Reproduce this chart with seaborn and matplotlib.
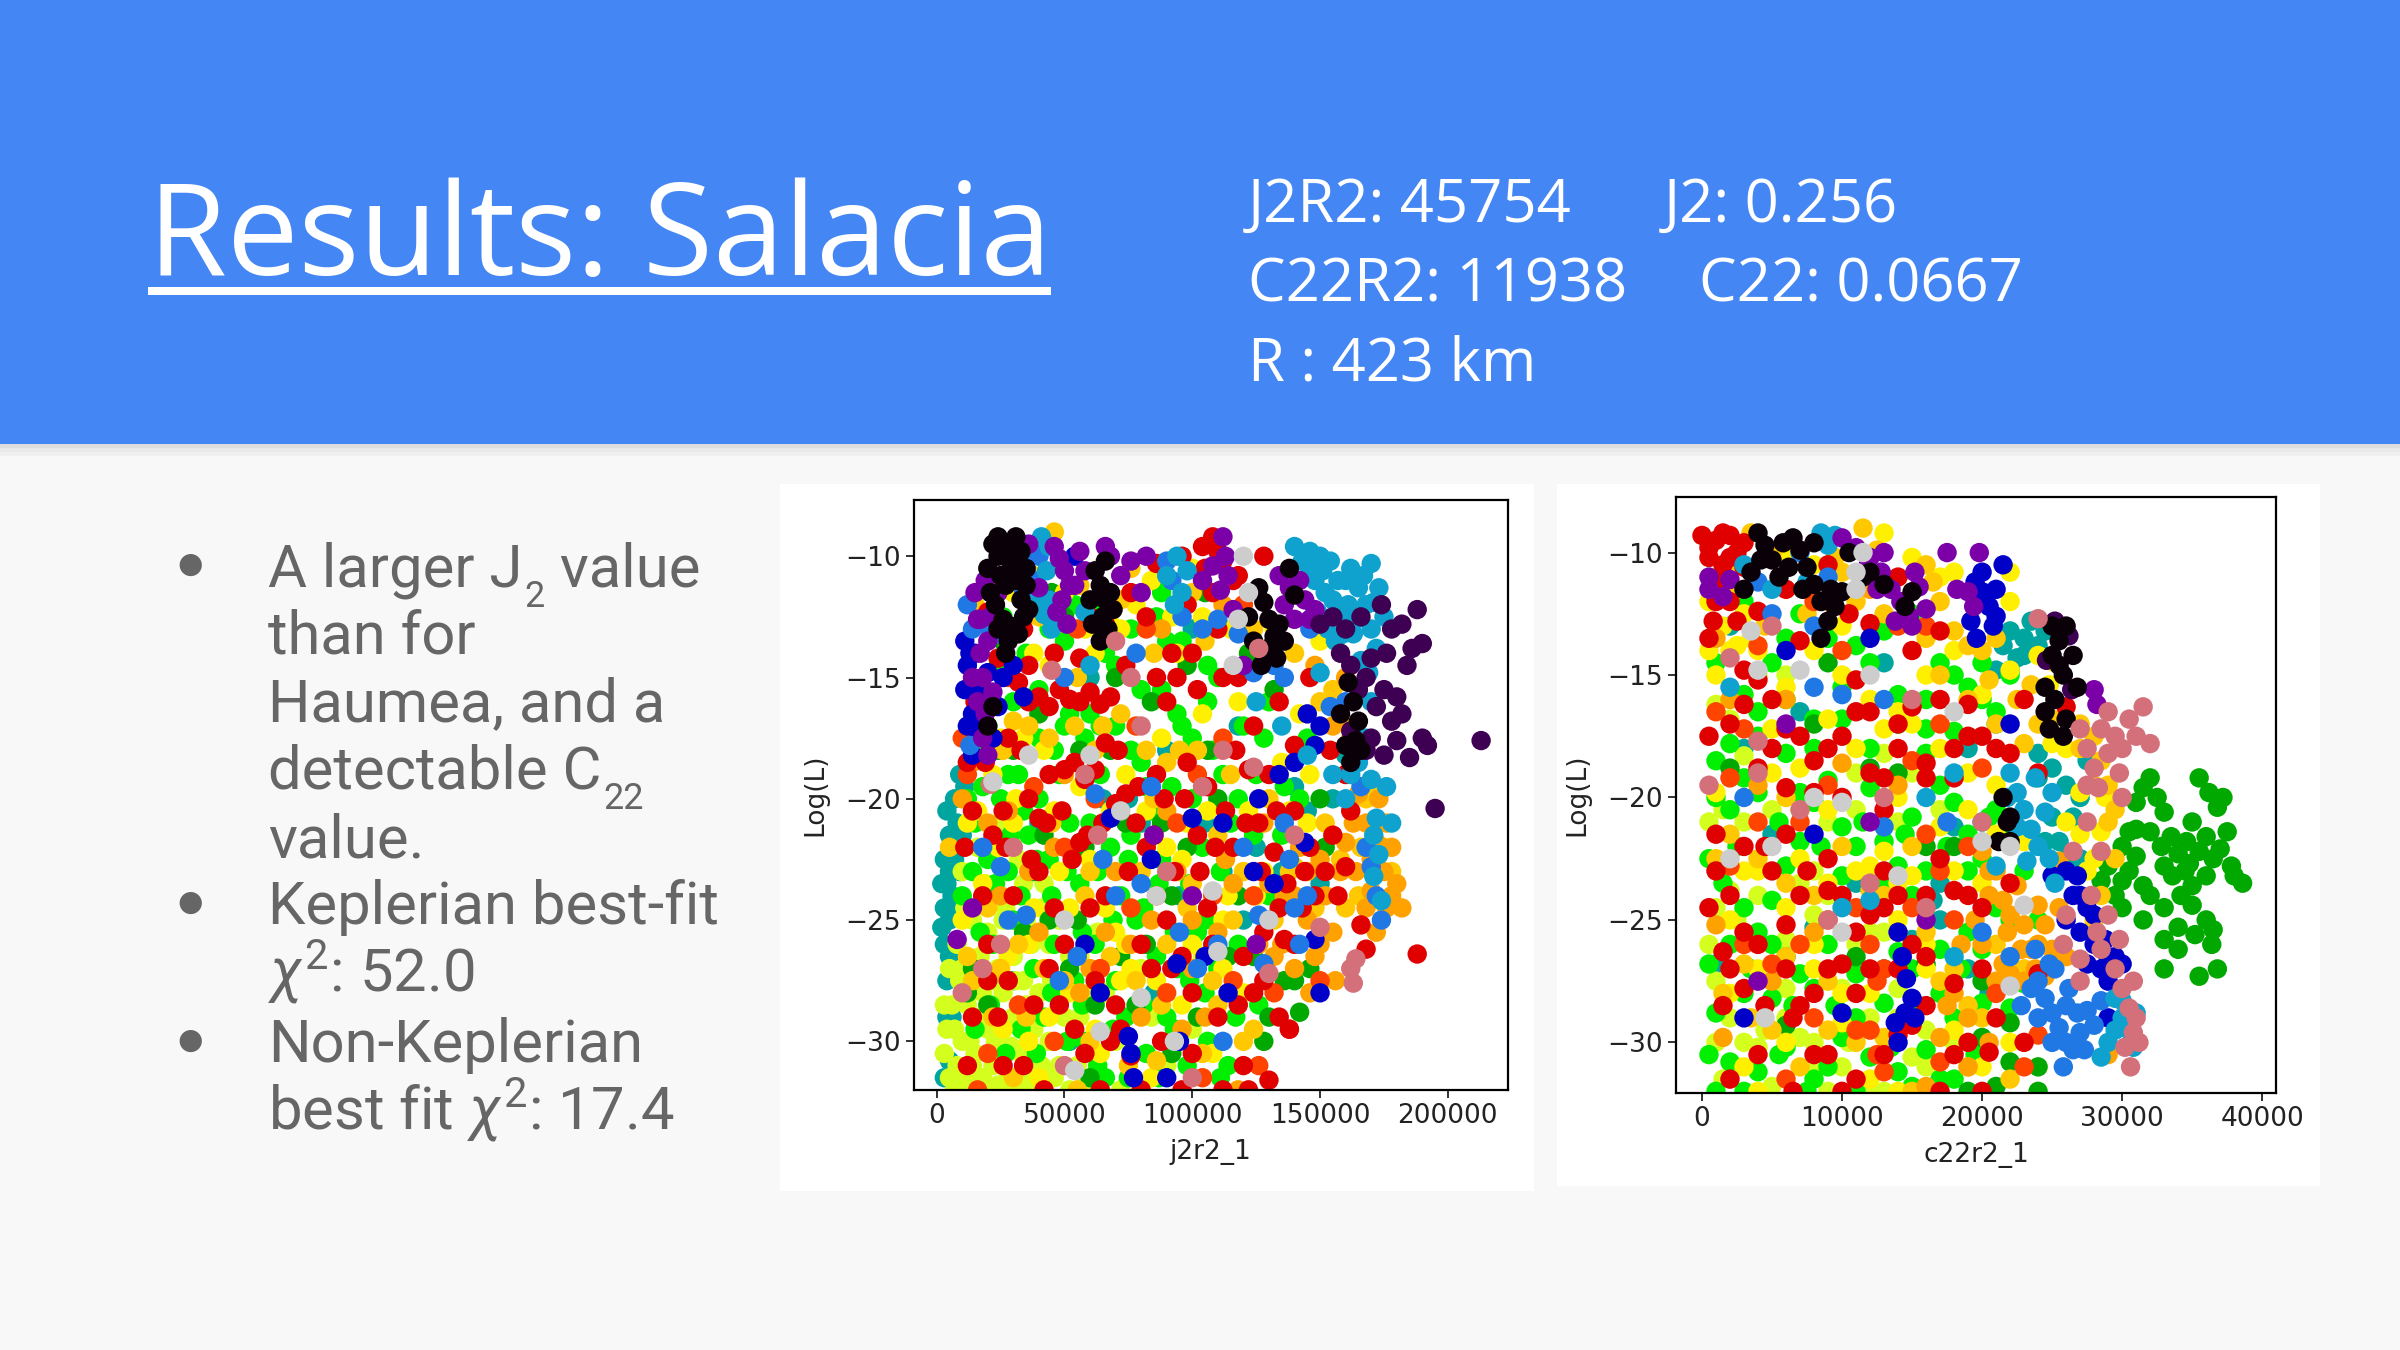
import matplotlib
matplotlib.use("Agg")
import matplotlib.pyplot as plt
from matplotlib.patches import Rectangle
import pandas as pd
import seaborn as sns

# ---------------------------------------------------------------
# walker colours (one colour per MCMC walker family)
# ---------------------------------------------------------------
walker_colors = {
    "teal": "#00a5a0", "chartreuse": "#d4ff1e", "lime": "#00f000",
    "green": "#00a800", "yellow": "#fff000", "gold": "#ffc800",
    "orange": "#ffa200", "vermilion": "#ff4400", "red": "#e00000",
    "navy": "#0000c8", "azure": "#2078e4", "sky": "#10a2ce",
    "purple": "#7b00a8", "aubergine": "#3e0052", "black": "#0a0008",
    "rose": "#d4707a", "silver": "#cdcdcd",
}
draw_order = ["teal", "chartreuse", "lime", "green", "yellow", "gold", "orange",
              "vermilion", "red", "navy", "azure", "sky", "purple", "aubergine",
              "black", "rose", "silver"]

# ---------------------------------------------------------------
# left panel: j2r2_1 (thousands) vs Log(L)
# ---------------------------------------------------------------
j2_teal = [(4,-20.5),(5,-21.5),(3,-22.5),(4,-23.5),(3,-24.5),(2,-25.3),(5,-25),(6,-22),(7,-20),(6,-24),(8,-21),(5,-26.5),(4,-27.5),(7,-27),(9,-19),(6,-29),(5,-30.8),(60,-15),(75,-20),(95,-24),(112,-23),(118,-17),(140,-19.5),(130,-25),(85,-28),(52,-30),(100,-13),(150,-23.5),(125,-22)]
j2_teal2 = [(3,-26),(5,-23),(7,-22.5),(8,-24.5),(9,-23),(10,-21.5),(4,-29),(6,-31.5),(3,-31.5),(2,-23.5),(11,-19.5),(65,-20),(90,-18),(105,-21),(135,-23),(145,-20.5),(155,-20),(160,-18.2),(120,-25),(80,-21),(40,-21),(30,-27.5)]
j2_chartreuse = [(5,-31.5),(8,-31),(10,-30),(12,-31.5),(15,-30.5),(18,-31.5),(20,-29.5),(22,-31),(25,-30),(28,-31.5),(30,-29),(33,-30.5),(36,-31.5),(38,-29.5),(41,-31),(6,-28.5),(9,-27.5),(12,-28.5),(15,-27),(18,-28),(22,-27.5),(26,-28),(30,-26.5),(34,-27.5),(40,-28),(44,-26),(8,-26),(14,-25),(20,-25.5),(27,-24.5),(35,-25),(42,-23.5),(48,-25),(50,-29),(55,-31),(60,-28),(46,-31.5),(63,-25.5),(70,-30),(16,-22),(24,-21),(32,-22.5),(10,-23),(80,-27),(90,-31),(100,-29.5),(4,-29.5),(11,-32),(19,-32),(27,-32),(34,-32)]
j2_chartreuse2 = [(3,-30.5),(7,-29.5),(13,-30),(17,-29),(23,-30),(29,-30.2),(35,-28.5),(7,-32),(14,-31),(24,-31.8),(31,-31.5),(38,-32),(44,-30),(48,-31),(52,-32),(58,-31.8),(10,-27),(17,-26.5),(24,-27),(31,-27.5),(37,-26),(45,-27.5),(52,-26.5),(11,-24.5),(19,-23.5),(26,-25),(34,-23.5),(41,-24.5),(56,-29),(66,-28),(72,-32),(84,-29),(5,-27),(3,-28.5)]
j2_lime = [(12,-20),(15,-21),(18,-19.5),(14,-23),(20,-22.5),(25,-20),(28,-23),(32,-19),(36,-21.5),(40,-20),(44,-22.5),(48,-19),(52,-21),(56,-23.5),(60,-21),(64,-19),(68,-22),(72,-24),(76,-21.5),(80,-18.5),(84,-20.5),(88,-22.5),(92,-19.5),(96,-17),(100,-20),(104,-22),(108,-18),(22,-26),(30,-25),(38,-27),(46,-26),(54,-27.5),(62,-26),(70,-27.5),(78,-25),(86,-26.5),(94,-27),(102,-25.5),(110,-27),(42,-29),(58,-30),(66,-31.5),(74,-29),(82,-30.5),(90,-29),(98,-31),(106,-30),(20,-17),(30,-16),(40,-15.5),(50,-17),(60,-16.5),(70,-14.5),(80,-15.5),(90,-13.5),(110,-15),(120,-17),(115,-21),(125,-19),(135,-21.5),(130,-16),(145,-17.5),(62,-12),(88,-11.5),(50,-13.5),(35,-14),(24,-14.5),(118,-26),(126,-28.5),(114,-31)]
j2_lime2 = [(10,-24),(17,-25.5),(23,-23.5),(29,-21.5),(33,-24),(39,-22.5),(45,-24),(51,-23),(57,-25.5),(63,-23),(69,-25),(75,-22.5),(81,-24.5),(87,-23.5),(93,-25.5),(99,-23.5),(105,-25),(111,-23),(15,-29.5),(21,-28.5),(27,-30.5),(33,-29.5),(39,-30.5),(45,-28),(51,-30),(57,-28.5),(63,-31),(69,-29.5),(75,-31.5),(81,-28.5),(87,-31.5),(93,-29.5),(99,-27.5),(105,-28),(111,-31.5),(117,-29),(16,-18),(22,-16),(28,-19),(34,-20.5),(40,-17.5),(46,-18),(52,-16.5),(58,-17.5),(64,-17),(70,-17),(76,-18),(82,-19.5),(88,-15.5),(94,-16.5),(100,-17.5),(106,-16),(112,-19),(118,-20),(124,-21.5),(130,-24),(136,-19.5),(142,-20),(26,-12.5),(44,-13),(54,-12),(66,-14),(76,-13),(86,-12.5),(96,-13.5),(106,-14.5),(128,-17.5)]
j2_green = [(26,-13.5),(45,-11.5),(70,-15),(38,-23),(55,-25),(78,-28.5),(92,-24),(110,-20),(128,-30),(140,-27.5),(142,-28.8),(68,-18),(84,-16),(105,-11.5),(122,-14),(12,-28),(60,-31.5),(98,-14.5),(150,-20),(30,-18)]
j2_green2 = [(14,-27),(20,-28.5),(34,-25.5),(44,-25),(52,-27),(62,-28.5),(72,-26.5),(82,-26),(92,-30.5),(102,-29),(114,-26.5),(124,-26.5),(136,-27.5),(146,-27),(130,-29),(118,-24),(98,-22),(88,-21),(74,-21),(58,-22),(42,-21.5),(24,-18),(56,-18),(106,-18),(132,-15.5),(152,-22),(50,-12.5),(40,-16.5)]
j2_yellow = [(18,-23.5),(22,-19),(34,-17.5),(42,-18),(48,-23),(56,-19.5),(66,-24.5),(74,-19),(88,-17.5),(96,-22.5),(104,-16.5),(112,-25),(120,-28),(108,-30.5),(84,-31.5),(70,-25.5),(52,-28),(36,-26),(26,-29.5),(40,-31.5),(58,-13),(78,-12),(92,-12.5),(100,-10.5),(68,-12.8),(115,-13),(30,-21),(10,-25),(76,-27),(62,-29.5),(100,-26),(125,-24),(135,-18.5),(145,-21),(160,-12.5),(44,-14.5)]
j2_yellow2 = [(16,-20.5),(24,-22),(31,-20),(38,-24.5),(46,-20.5),(52,-24.5),(60,-22.5),(68,-20.5),(74,-26),(82,-20.5),(90,-22),(98,-21),(106,-20.5),(114,-24),(122,-20.5),(128,-23),(138,-20.5),(146,-19),(28,-26.5),(36,-30),(44,-29),(56,-26.5),(64,-30.5),(72,-27.5),(86,-27.5),(96,-28.5),(104,-26.5),(112,-27),(30,-11.5),(38,-14),(50,-11.5),(62,-14),(72,-13),(84,-11),(94,-14),(104,-12.5),(118,-16),(132,-13),(150,-13.5),(142,-16.5),(25,-17.5),(12,-21)]
j2_gold = [(20,-11),(46,-9),(47,-12.8),(15,-12),(30,-16.8),(55,-15),(65,-17),(85,-14),(105,-13.5),(95,-18),(115,-19),(130,-20),(140,-14),(155,-15.5),(150,-16),(168,-20),(170,-19.5),(45,-21),(60,-23),(80,-23),(25,-27),(35,-29),(90,-26),(110,-28.5),(75,-31),(55,-32),(120,-30),(100,-23.5),(5,-22),(12,-26.5),(148,-24.5),(138,-23),(158,-22.5),(165,-24),(85,-20),(40,-12.5),(72,-11.8)]
j2_gold2 = [(18,-17),(26,-18),(36,-17),(44,-17.5),(54,-17),(62,-18),(72,-16.5),(82,-18),(90,-18.5),(102,-18),(110,-21.5),(120,-23),(132,-25),(140,-22.8),(152,-21),(160,-24.5),(166,-22),(175,-22),(178,-23),(20,-24.5),(32,-26),(42,-27),(50,-27.5),(58,-24),(68,-26.5),(78,-27.5),(88,-28.5),(98,-24.5),(108,-27.5),(116,-25),(124,-29.5),(14,-27.5),(22,-29),(30,-31.5),(60,-30),(86,-30.8),(104,-30.5),(38,-10.8),(56,-11.2),(76,-10.5),(100,-11.5),(124,-13)]
j2_orange = [(165,-19.8),(168,-21),(170,-22.5),(172,-21.8),(175,-23),(178,-24),(180,-23.5),(182,-24.5),(176,-21),(173,-20),(150,-22.5),(152,-24),(155,-25.5),(158,-23),(145,-25),(148,-26.5),(140,-24),(135,-26),(142,-22),(130,-23.5),(162,-17.5),(158,-16.8),(100,-27),(105,-29),(110,-25.5),(90,-20.5),(70,-23),(50,-19),(40,-25.5),(25,-24),(60,-27),(80,-29),(118,-32),(128,-21),(113,-22.5),(96,-29.5),(14,-18.5)]
j2_orange2 = [(160,-21.8),(164,-23),(168,-24.5),(172,-25.5),(176,-24.5),(163,-21),(170,-23.8),(178,-22),(145,-23),(150,-26),(156,-27.5),(146,-28),(140,-27),(136,-24),(132,-26.5),(126,-26),(116,-23.5),(100,-25),(94,-23),(84,-25),(76,-26),(66,-25.5),(56,-28),(46,-22),(36,-23),(28,-20.5),(20,-21),(10,-20),(88,-13),(112,-12),(148,-14.5),(155,-17),(160,-15)]
j2_vermilion = [(10,-17.5),(12,-19),(18,-15.5),(28,-15),(38,-19.5),(50,-22),(62,-20),(78,-17),(86,-24),(94,-21),(102,-19),(112,-17.5),(124,-24),(132,-28),(138,-29.5),(126,-31),(116,-27.5),(104,-31.5),(90,-28),(76,-24.5),(64,-27),(46,-30),(32,-28.5),(20,-30.5),(16,-32),(55,-13),(82,-13),(120,-12),(150,-27.5),(108,-24)]
j2_red = [(12,-18.5),(14,-20.5),(11,-22),(16,-17),(20,-12.3),(24,-14.2),(28,-17.5),(32,-15.2),(36,-16),(40,-15.8),(44,-16.2),(48,-15.5),(52,-15.9),(56,-16),(60,-15.6),(64,-16.1),(68,-15.8),(34,-13),(40,-20.8),(44,-19),(50,-18.8),(54,-18.5),(58,-19.2),(62,-18.8),(66,-17.7),(70,-20.2),(74,-19.8),(78,-21),(82,-22),(86,-19),(90,-16),(94,-15),(98,-18.5),(102,-21.5),(106,-19.5),(110,-9.8),(105,-10.5),(108,-11.5),(86,-10.3),(112,-10.2),(98,-12),(92,-14),(118,-15),(122,-18.8),(126,-21),(130,-19),(132,-22.2),(134,-24.5),(128,-25.5),(120,-26.5),(124,-28),(136,-25.8),(140,-20.5),(144,-23),(148,-24),(155,-21.5),(160,-22.8),(166,-25.2),(168,-26.2),(188,-26.4),(138,-29.5),(130,-31.6),(120,-31),(110,-29),(100,-28),(90,-25),(80,-26),(70,-28.5),(60,-24.5),(50,-26),(40,-23),(30,-24),(20,-26),(14,-29),(24,-29),(34,-31),(48,-28.5),(58,-30.5),(68,-30),(76,-30.6),(88,-30),(96,-26.5),(106,-24.5),(116,-22),(66,-24),(56,-21.8),(46,-24.5),(36,-20),(26,-20.5),(18,-24),(82,-12.5),(74,-14.5),(60,-12.5),(30,-13),(116,-11),(102,-15.5),(112,-15)]
j2_red2 = [(15,-16),(19,-18.5),(22,-21.5),(27,-22),(33,-18),(37,-22.5),(43,-21),(49,-20.5),(53,-22.5),(59,-21.5),(65,-21),(71,-18),(75,-23),(79,-19.5),(85,-21.5),(89,-20),(93,-23),(97,-20),(103,-23),(109,-22),(113,-20.5),(117,-18),(121,-21),(127,-23),(133,-20.5),(137,-23.5),(143,-24.5),(146,-22),(152,-23),(157,-24),(162,-20.5),(20,-27.5),(28,-27.5),(38,-28.5),(44,-27),(54,-29.5),(62,-27.5),(72,-29.5),(84,-27),(92,-27),(100,-30.5),(108,-26),(118,-28.5),(128,-27.5),(134,-29),(140,-26),(12,-31),(26,-31),(42,-32),(64,-32),(80,-32),(96,-32),(112,-32),(122,-32),(36,-14.5),(46,-14),(56,-14.2),(66,-12.8),(76,-11.5),(96,-10),(104,-9.6),(118,-10.8),(128,-10),(86,-15),(100,-14),(110,-13),(124,-17),(134,-16),(140,-17.8),(146,-15),(154,-18),(160,-19),(108,-9.2)]
j2_navy = [(12,-14.5),(13,-15.5),(14,-16.5),(15,-14),(16,-17.2),(17,-15.8),(22,-17.5),(54,-10),(76,-30.5),(77,-31.5),(75,-29.8),(112,-21),(124,-23),(100,-20.8),(84,-22.5),(64,-28),(145,-16.5),(148,-17.8),(150,-17),(134,-19),(44,-11.8),(90,-31.5),(150,-28),(148,-25.8),(105,-26.5),(95,-30)]
j2_navy2 = [(11,-15.5),(12,-17),(14,-18.2),(15,-15.5),(11,-13.5),(13,-14),(18,-16.6),(20,-14.8),(24,-16.2),(26,-15),(30,-14.5),(34,-15.8),(68,-20.8),(94,-26.8),(114,-28),(132,-23.5),(140,-18.5),(144,-21.8),(126,-20),(58,-26)]
j2_azure = [(14,-13),(13,-17.8),(40,-10),(42,-9.5),(38,-11),(90,-10.2),(92,-11),(118,-13.2),(132,-14.5),(140,-24.5),(145,-24),(120,-22),(110,-26),(95,-25.5),(80,-23.5),(65,-22.5),(55,-26.5),(35,-24.8),(25,-22.8),(112,-30),(128,-26.8),(160,-16),(170,-22.8),(172,-24),(142,-26),(138,-22.5)]
j2_azure2 = [(12,-12),(18,-12.8),(24,-13.2),(34,-11.5),(38,-9.8),(50,-15),(62,-19.8),(78,-14),(96,-12.5),(104,-13),(110,-12.6),(124,-14.8),(136,-15),(146,-13),(154,-16.2),(166,-19.5),(168,-22),(174,-25),(136,-21),(126,-24.8),(102,-27),(84,-19.5),(70,-24),(48,-27.5),(28,-25),(18,-22)]
j2_sky = [(140,-9.6),(143,-10.2),(146,-10.5),(148,-11),(150,-10),(152,-11.5),(155,-11.8),(158,-12.3),(160,-11),(162,-10.5),(165,-11.3),(168,-12),(170,-13),(172,-13.8),(166,-14.3),(163,-13.2),(156,-13.5),(170,-10.3),(173,-11.3),(41,-9.2),(43,-10.6),(44,-11.8),(42,-12.4),(90,-10.8),(93,-12),(96,-11.5),(165,-18.5),(170,-19.2),(172,-20.8),(173,-22.3),(174,-24.2),(171,-21.5),(160,-20),(155,-19),(150,-14.8),(145,-18.2),(135,-17),(125,-16),(58,-12.3),(60,-14.5)]
j2_sky2 = [(146,-9.8),(151,-10.6),(154,-10.2),(157,-11),(161,-12),(164,-12.6),(167,-10.8),(171,-11.9),(175,-12.5),(169,-14.8),(159,-13.2),(153,-13),(149,-12.3),(44,-9.6),(40,-11.8),(45,-13),(98,-10.6),(94,-10),(168,-17.5),(176,-19.5),(178,-21),(171,-23.2),(162,-19),(170,-16)]
j2_purple = [(46,-9.6),(48,-10.1),(50,-10.6),(52,-11.2),(49,-11.8),(47,-12.3),(51,-12.8),(16,-12.6),(17,-14),(18,-15),(19,-16.5),(16,-16),(20,-13.5),(22,-15.6),(112,-9.2),(113,-10),(114,-10.8),(111,-11.4),(138,-11.3),(136,-12),(140,-12.6),(142,-11),(68,-10),(80,-11.5),(14,-24.5),(8,-25.8),(85,-21.5),(100,-24),(120,-14.5),(125,-26)]
j2_purple2 = [(15,-11.5),(17,-12.6),(19,-11),(21,-12.5),(24,-11.5),(18,-17.5),(20,-18.2),(14,-15),(36,-9.5),(40,-11.3),(54,-11.2),(56,-9.8),(58,-10.6),(66,-9.6),(72,-10.8),(76,-10.2),(82,-10),(104,-11),(108,-10.4),(116,-12.2),(134,-10.8),(144,-11.8),(146,-12.6),(148,-12.2)]
j2_aubergine = [(150,-12.8),(155,-12.5),(158,-14),(160,-13),(162,-14.5),(165,-15.5),(168,-15),(170,-14.2),(172,-16.2),(175,-15.5),(178,-16.8),(180,-15.8),(182,-16.5),(184,-14.5),(186,-13.8),(188,-12.2),(190,-13.6),(178,-13),(176,-14),(174,-12),(166,-12.5),(170,-17.5),(175,-18.2),(180,-17.6),(185,-18.3),(190,-17.5),(192,-17.8),(195,-20.4),(213,-17.6),(168,-18),(162,-17.2),(182,-12.8)]
j2_black = [(22,-9.5),(24,-9.2),(26,-9.4),(28,-10),(30,-9.6),(32,-10.2),(25,-10.8),(27,-11.2),(29,-10.5),(31,-11),(33,-11.8),(34,-12.5),(23,-12),(26,-12.6),(30,-12.9),(35,-10.5),(28,-13.5),(32,-13.2),(36,-12.2),(62,-10.6),(64,-11.2),(66,-11.8),(65,-12.5),(67,-13),(63,-12.8),(68,-11.5),(126,-11.3),(128,-11.9),(130,-12.6),(132,-13.3),(129,-14),(131,-13.7),(134,-12.8),(161,-15.2),(163,-16),(165,-16.8),(164,-17.6),(166,-18)]
j2_black2 = [(20,-10.5),(21,-11.5),(24,-10),(27,-9.8),(31,-9.2),(33,-9.8),(35,-11.2),(24,-13),(27,-14),(22,-16.2),(20,-17),(60,-11.8),(61,-12.8),(64,-13.5),(66,-10.2),(69,-12.2),(122,-12.5),(124,-13.5),(127,-14.5),(133,-14.2),(136,-13.5),(158,-16.5),(160,-17.8),(162,-18.5),(138,-10.5),(140,-11.6)]
j2_rose = [(21,-19.4),(30,-22),(45,-14.7),(58,-19),(63,-21.5),(76,-15),(80,-17),(90,-23),(104,-19.5),(112,-18),(124,-18.7),(126,-13.8),(150,-25.3),(162,-27),(163,-27.6),(164,-26.6),(18,-27),(25,-26),(50,-31),(140,-21.5),(130,-27.2),(70,-13.5),(100,-31.5),(10,-28)]
j2_silver = [(22,-19.3),(50,-25),(60,-18.2),(72,-20.5),(86,-24),(93,-30),(110,-26.3),(116,-14.5),(122,-11.5),(120,-10),(118,-12.6),(64,-29.6),(108,-23.8),(54,-31.2),(80,-28.2),(36,-18.2),(130,-25)]

# ---------------------------------------------------------------
# right panel: c22r2_1 (thousands) vs Log(L)
# ---------------------------------------------------------------
c22_teal = [(22,-13.2),(23,-13.5),(24,-13.8),(22.5,-14.3),(23.5,-12.8),(21,-14.8),(24,-18.2),(25,-18.8),(26,-19.5),(26.5,-20.8),(25.5,-21.8),(27,-22.5),(27.5,-18.5),(18,-21.2),(17,-23.5),(16.5,-24.2),(19,-27),(20.5,-28),(13,-27),(11,-23.5),(7,-16.5),(2,-13),(5,-21.5)]
c22_teal2 = [(21.5,-13.8),(22,-14.8),(23,-14.2),(24.5,-13.2),(24,-19.2),(25,-20.8),(26,-22.5),(24.5,-21.8),(27,-20),(21,-17),(19,-18),(17,-25),(15,-25.8),(20,-21),(1,-26.8),(3,-18),(8,-25.3),(13,-14.5)]
c22_chartreuse = [(0.5,-26),(1,-27.5),(2,-29),(3,-30),(1.5,-31.5),(4.5,-29.5),(6,-27.8),(7,-29.8),(5,-31.8),(8,-30),(9,-32),(10,-31),(12,-29),(11,-26),(13,-25.5),(14,-27.8),(15,-30.6),(7,-23.5),(5,-20.5),(3,-21),(2,-23.8),(9,-24),(11,-20.5),(13,-18.2),(15,-19),(17,-20.5),(4,-15),(1,-16.2),(8,-23),(16,-29.5),(13,-32)]
c22_chartreuse2 = [(1,-24.5),(2.5,-25),(4,-24),(6,-25.8),(8,-24.8),(10,-27.8),(12,-25.5),(1,-30),(2.5,-31),(4,-30.2),(6,-29),(8,-31.2),(10.5,-30),(12,-32),(14,-29),(16,-31),(18,-30),(3,-18.3),(7,-20.5),(9,-21),(11,-19),(14,-21),(2,-16.8),(6,-15),(0.5,-21),(1.5,-20.5)]
c22_lime = [(1,-18.5),(3,-19.2),(2,-20.5),(0.5,-22.5),(1.5,-23.5),(3,-24.5),(4,-25.5),(5,-24.2),(6,-22.8),(7,-21.8),(8,-20.2),(9,-19.3),(10,-21.2),(11,-22),(12,-19.6),(13,-21.8),(14,-22.8),(15,-20.8),(16,-18.2),(17,-19.5),(18,-20.2),(19,-21.5),(20,-22.5),(21,-24.5),(19,-25.5),(17,-26.2),(15,-27),(13,-28.4),(11,-27.2),(9,-26),(7,-27.2),(5,-28.2),(3,-28),(1,-28.8),(0.5,-30.5),(2,-30.8),(4,-31.2),(6,-30.2),(8,-31.5),(10,-29.8),(12,-30.6),(14,-31.2),(16,-30.3),(17,-31.5),(18,-29),(20,-28.4),(22,-28.6),(23,-27.6),(24,-25),(8,-16.8),(10,-15.5),(12,-14.5),(14,-15.8),(16,-16),(18,-15),(20,-14.5),(4,-16.5),(6,-18.2),(3,-12),(21,-20.5),(22,-25),(15,-24),(6,-13.5)]
c22_lime2 = [(1,-20),(2.5,-22),(4,-19.8),(5.5,-21),(7,-19.8),(8.5,-22),(10,-23.2),(11.5,-21),(13,-23.5),(14.5,-21.5),(16,-23),(17.5,-22),(19,-23),(20.5,-20.8),(22,-21.2),(0.5,-26.8),(2,-26),(3.5,-27),(5,-26),(6.5,-28.5),(8,-27.8),(9.5,-28.5),(11,-29),(12.5,-27.2),(14,-26.3),(15.5,-28.5),(17,-28),(18.5,-27),(20,-26.2),(1,-32),(3,-32),(5.5,-30.5),(7.5,-32),(9,-31),(11,-32),(13.5,-30.2),(15,-31.8),(18,-31.5),(19.5,-30.5),(2,-17.8),(4,-17.5),(6,-16),(8,-18),(10,-16.8),(12,-18),(14,-17),(16,-17.2),(18,-17.3),(20,-16),(22,-15),(1,-14.5),(3,-15.8),(5,-14.5),(7,-12.5),(9,-13.5),(11,-13.8),(13,-13.2),(15,-12.5),(17,-14.5),(19,-15.5),(21,-16.5),(23,-23)]
c22_green = [(29,-22.8),(30,-22),(30.5,-21.4),(31,-20.2),(31.5,-19.6),(32,-19.2),(32.5,-20),(33,-20.6),(32,-21.4),(31,-22.4),(30,-23.4),(31.5,-23.6),(33.5,-21.6),(34,-22.3),(34.5,-23),(35,-23.6),(35.5,-22.2),(36,-21.6),(36.5,-22.5),(37,-22.1),(35.5,-19.2),(36.2,-19.8),(36.8,-20.4),(37.2,-20),(35,-21),(33,-22.8),(32,-24),(33,-24.5),(34,-25.3),(35,-24.4),(34.2,-24),(36,-25),(38,-23.2),(38.6,-23.5),(36.5,-25.4),(34,-26.2),(35.5,-27.3),(33,-27),(36.4,-26),(28.5,-23.4),(29.5,-24),(20,-27.5),(22,-29.2),(24,-31),(21,-31.8),(19,-32),(12,-18.8),(6,-26.5),(9,-14.5),(16,-22),(24,-32)]
c22_green2 = [(32.8,-22),(33.6,-23.2),(34.6,-21.8),(31,-21.3),(30.5,-23),(37.5,-21.4),(36,-23.2),(33,-25.8),(35.2,-25.6),(36.8,-27),(34.8,-22.7),(31.5,-25),(30,-24.5),(37.8,-22.8),(2,-18.8),(8,-17),(14,-19),(18,-22),(6,-29.3),(11,-26.5),(16,-26.8),(20,-29.8),(22,-30.8)]
c22_yellow = [(0.5,-14),(1,-15),(2,-14),(3.5,-13.5),(5,-17.2),(7,-18.8),(9,-16.8),(11,-18),(13,-17.2),(15,-17),(17,-18),(19,-19),(21,-19.5),(27,-21.5),(28,-22.5),(28.5,-21.4),(27.5,-23),(26,-18),(25,-17.8),(24.8,-15.4),(25.2,-14.5),(10,-13),(6,-24.5),(4,-23),(2,-25),(8,-27),(10,-29.2),(12,-22.8),(14,-23.5),(18,-23),(20,-23.5),(16,-27),(12,-31.5),(3,-31),(22,-10.8),(17,-11),(6,-10),(3,-12.5),(9,-23.5),(14,-20)]
c22_yellow2 = [(0.5,-12),(1.5,-13),(2.5,-13.8),(4,-14),(6,-15.5),(8,-14),(10,-15),(12,-16),(14,-16.5),(16,-15),(18,-14),(20,-15.8),(22,-14.8),(24,-14.2),(1,-19.8),(3,-23),(5,-19),(7,-22.5),(9,-20.5),(11,-23),(13,-22.2),(15,-23.2),(17,-21.2),(19,-20.5),(21,-21.5),(23,-21.8),(26,-21),(27,-19.8),(28.8,-20),(2,-28),(4,-27),(6,-30),(8,-26),(10,-28),(12,-28),(14,-25),(16,-26),(18,-29.5),(20,-31),(22,-30),(24,-26),(14,-32),(4,-32),(8,-10.5),(13,-9.2),(15,-10.2),(18,-10.8),(22,-12)]
c22_gold = [(11.5,-9),(12.5,-9.9),(2.5,-11.5),(4.5,-13),(7.5,-12.5),(16,-10.5),(16.5,-11.2),(17,-12),(18,-13.2),(19,-13.8),(20,-14),(21,-13.5),(20.5,-15.2),(22.5,-16),(23.5,-15.4),(24,-17),(28,-19.5),(28.5,-18.5),(29,-21),(29.5,-20.5),(28,-17.5),(27,-17),(1,-22.5),(3,-26.8),(5,-29.5),(7,-31),(9,-27.5),(11,-30),(13,-24),(15,-22),(17,-27.5),(19,-28.5),(21,-26),(23,-27),(22,-31.5),(6,-20)]
c22_gold2 = [(1,-11),(2,-10.5),(3.5,-9.2),(5,-10),(9.5,-10.2),(10,-10.8),(11,-12),(13,-12.5),(16,-13.5),(17,-15),(19,-16),(21,-17),(23,-17.8),(25,-16.8),(27,-18),(29,-19.5),(29.5,-22.5),(28.5,-24),(28,-25),(2,-21.5),(4,-22.5),(6,-23.5),(8,-24),(10,-22),(12,-23.8),(14,-25.5),(16,-25.5),(18,-27),(20,-29),(1.5,-28),(3.5,-29),(6,-26.5),(9,-29.5),(13,-29.8),(15,-32),(19,-31)]
c22_orange = [(20,-22.2),(21,-23),(21.5,-24.2),(22,-24.8),(22.5,-23.6),(23,-25.2),(23.5,-26.2),(24.5,-25.2),(25,-26.2),(24,-24.4),(23,-27.5),(21.5,-26.8),(20.5,-24),(19.5,-25),(21,-27.5),(19,-29),(18,-28),(17,-29.8),(29,-30.5),(1,-25.2),(1,-13.5),(1.5,-29.8),(6,-16),(8,-25.5),(10,-18.6),(14,-19.5),(26,-26.5),(25.5,-22.6),(16,-31.8)]
c22_orange2 = [(20.5,-23),(21.8,-25.5),(22.8,-26.2),(23.8,-27),(24.5,-27.3),(25.5,-24.5),(24,-26),(22,-27.2),(20,-26),(18.5,-26),(17.5,-28.5),(19,-31),(20.5,-30),(2,-16),(4,-19.5),(9,-12),(12,-11.5),(5,-27.5)]
c22_vermilion = [(1,-16.5),(3,-17.2),(2,-19.2),(4,-21),(5,-26.8),(7,-26),(9,-25),(11,-24.5),(12,-26),(12.5,-27.5),(12,-29.5),(12.5,-30.5),(13,-31.2),(15,-18.5),(17,-17),(18,-25),(20,-18.8),(8,-29),(6,-31.5),(17,-30.8),(24,-29.7),(10,-14),(14,-13),(16,-21.5)]
c22_vermilion2 = [(2,-22.8),(3,-26),(7,-21),(9,-19.5),(11,-29.5),(13,-27),(15,-24.5),(17,-23),(19,-22),(21,-28),(23,-31),(4,-13.8),(8,-12),(16,-13)]
c22_red = [(0,-9.3),(1,-9.5),(2,-9.3),(0.5,-10.2),(1.5,-10.5),(2.5,-10),(3,-9.6),(1,-11.2),(2,-12),(0.8,-12.8),(4,-12.4),(6,-11.5),(9,-10.5),(10.5,-12.5),(12,-12.9),(14,-11),(7,-13.6),(3,-14.8),(5,-16),(2,-17),(4,-18.8),(6,-19.6),(8,-18.5),(10,-17.5),(12,-16.5),(14,-18),(16,-19.2),(18,-18),(20,-17.5),(22,-18.2),(19,-16.2),(11,-15.2),(9,-22.5),(7,-24),(5,-23),(3,-22),(1,-21.5),(0.5,-24.5),(2,-27),(4,-26),(6,-25.2),(8,-28),(10,-26.8),(12,-24.8),(13,-23),(15,-26),(17,-22.5),(19,-24),(21,-29),(23,-30),(18,-30.5),(16,-28.5),(14,-29.7),(11,-31.5),(9,-30.5),(20.5,-30.4),(13,-20.5),(10,-20),(15,-14),(17,-13.2),(0.5,-17.5),(1.5,-26.3),(24,-27.2),(26,-16.3),(22,-23.5),(6.5,-29),(20,-32)]
c22_red2 = [(0.5,-9.8),(1.5,-9.2),(2,-10.2),(3,-10.6),(1,-12),(2.5,-12.8),(0.5,-13.5),(3,-16.2),(4,-15.2),(5,-18),(6,-17.2),(7,-17.5),(8,-19.8),(9,-18),(11,-16.5),(12,-19),(13,-19.2),(14,-17),(15,-16.3),(16,-18.6),(17,-16),(18,-19.2),(19,-17.5),(21,-18),(23,-16),(24,-19),(1,-23),(2,-24),(3,-25.5),(4.5,-22),(6,-21.5),(7.5,-23),(9,-23.8),(10,-24),(11,-25.5),(13,-24.5),(14,-24),(16,-24),(18,-23.8),(20,-24.5),(1.5,-28.5),(3,-27.8),(4.5,-28.5),(6,-27),(7,-28.5),(9,-27),(11,-28),(12,-27),(14,-27),(16,-26.5),(18,-27.6),(20,-27),(2,-31.5),(4,-30.5),(6.5,-32),(8,-30.5),(10,-32),(13,-30.5),(15,-29.3),(17,-32),(19,-30)]
c22_navy = [(19.5,-11.2),(20,-11.6),(20.5,-12.2),(21,-11.5),(21.5,-10.5),(20.8,-13),(19.2,-12.8),(14,-25.5),(14.3,-26.5),(14.6,-27.4),(15,-28.2),(15.2,-29),(14,-30),(10,-28.8),(3,-29),(26,-23),(26.5,-24),(27,-25.5),(27.5,-24.5),(28,-26),(28.5,-27),(29,-27.5),(29.5,-26.5),(30,-26.8),(29,-29),(26.8,-23.2),(8,-21.5),(6,-14),(22,-17),(12,-13.5)]
c22_navy2 = [(20,-10.8),(21,-12.6),(19.6,-13.5),(14.5,-28.8),(13.8,-29.2),(27,-24),(28,-24.8),(28.8,-25.8),(27.5,-26.8),(29,-26.5),(26,-25),(25,-23.2)]
c22_azure = [(24,-27.5),(24.5,-28.2),(25,-28.8),(25.5,-29.4),(26,-30),(26.5,-30.3),(27,-29.6),(27.5,-28.7),(28,-29.3),(26.2,-27.8),(25.2,-27),(23.8,-26.2),(9,-11),(7,-10),(5,-12.5),(8,-15.5),(13,-16),(17.5,-21),(20,-25.5),(22,-26.5),(3,-20)]
c22_azure2 = [(25,-30),(24,-29),(25.8,-31),(27.3,-30.3),(28.5,-28.3),(23.5,-27.8),(22.8,-28.5),(26.8,-28.8),(26,-28.5),(24.8,-26.8),(13,-21.2),(10,-15.8),(4,-11.2),(8,-13)]
c22_sky = [(8.5,-9.2),(9,-9.7),(22,-19),(22.5,-19.8),(23,-20.5),(23.5,-21.3),(24,-22),(24.5,-20.6),(25,-19.8),(23.2,-22.6),(21,-22.8),(29.5,-28.2),(30,-29),(30.5,-29.5),(31,-28.8),(29,-30),(5,-11.5),(2,-15.5),(10,-24.5),(18,-26.5),(16,-20)]
c22_sky2 = [(22.5,-21.2),(23.8,-19.2),(21.8,-20),(24.8,-22.5),(25.2,-23.5),(30,-28.3),(30.8,-30.2),(29.5,-29.5),(28.5,-30.6),(9.5,-9.3),(7.5,-11.2),(3,-10.5),(12,-24.2),(18,-19)]
c22_purple = [(11,-9.8),(12,-10.2),(12.8,-10.8),(13.5,-11.5),(14.2,-12),(14.8,-12.6),(15.5,-11.4),(16,-12.3),(10,-9.4),(19.8,-10),(19,-11.6),(19.4,-12.2),(28,-15.6),(28.2,-16.2),(0.5,-11.5),(2,-11.1),(6,-17),(12,-21),(16,-25),(4,-27.5)]
c22_purple2 = [(12.5,-11.5),(13.8,-12.8),(15,-13),(11.8,-10.6),(13,-10),(15.2,-10.8),(17.5,-10),(18.2,-11.5),(0.5,-11),(1.5,-11.8)]
c22_aubergine = [(25.2,-12.8),(26.2,-13.4),(24.6,-14.4),(26.4,-15.6)]
c22_black = [(4,-9.2),(4.5,-9.7),(5,-10.3),(5.5,-11),(3.5,-10.8),(6.5,-9.4),(7,-9.9),(7.5,-10.6),(8,-11.3),(8.5,-12),(9,-12.8),(9.5,-12.2),(10,-11.6),(8,-9.6),(12,-10.8),(13,-11.3),(14.5,-12.2),(15,-11.6),(25,-13),(25.5,-13.6),(26,-13),(26.5,-14.2),(25.8,-15),(25.2,-16),(26,-16.8),(24.8,-17.2),(25.5,-14.6),(24.5,-15.5),(21.5,-20),(21.8,-21),(22,-21.8),(8.5,-13.5)]
c22_black2 = [(4.2,-10.3),(5.8,-9.6),(6.2,-10.6),(7.2,-11.5),(9.2,-11.5),(10.5,-10),(11.5,-11),(3,-11.5),(25,-14.2),(24.5,-16.5),(25.8,-17.5),(26.8,-15.5),(22,-20.8),(21.2,-21.8)]
c22_rose = [(27,-17.2),(27.5,-18),(28,-18.8),(28.3,-19.6),(29,-16.5),(29.5,-17.5),(30,-18),(31.5,-16.3),(32,-17.8),(26.5,-22.2),(27.5,-21),(28.5,-22.2),(29,-24.8),(28.5,-26.2),(29.5,-27),(30,-27.8),(30.5,-28.6),(30.8,-29.6),(30.2,-30.2),(31,-29),(27,-26.6),(25.8,-26),(0.5,-19.5),(2,-14.3),(4,-17.7),(7,-20.5),(12,-23.5),(5,-13),(24,-12.7),(30,-20),(13,-20),(20,-21),(16,-24.5)]
c22_rose2 = [(27.5,-19.5),(28.5,-17.2),(29,-18.2),(29.8,-19),(30.5,-16.8),(31,-17.5),(27.8,-24),(28.2,-25.5),(29.8,-25.8),(30.8,-27.5),(31.2,-30),(30.6,-31),(26,-24.8),(27,-27.5),(4,-19),(9,-25),(15,-16)]
c22_silver = [(3.5,-13.2),(4,-14.8),(2,-22.5),(5,-22),(10,-20.2),(11,-11.5),(11.5,-10),(11,-10.8),(10,-25.5),(4.5,-29),(8,-20),(20,-21.8),(22,-22),(23,-24.4),(22,-27.7),(12,-15),(18,-16.5),(14,-23.2),(7,-14.8)]

# tick positions straight off the picture
j2_xticks = [0, 50000, 100000, 150000, 200000]
c22_xticks = [0, 10000, 20000, 30000, 40000]
logl_yticks = [-30, -25, -20, -15, -10]

header_rows = [("J2R2: 45754", "J2: 0.256"), ("C22R2: 11938", "C22: 0.0667"), ("R : 423 km", "")]
# each bullet line: (text before subscript, subscript, text after)
bullet_lines = [("A larger J", "2", " value"), ("than for", "", ""), ("Haumea, and a", "", ""),
                ("detectable C", "22", ""), ("value.", "", ""), ("Keplerian best-fit", "", ""),
                (r"$\chi^2$: 52.0", "", ""), ("Non-Keplerian", "", ""),
                (r"best fit $\chi^2$: 17.4", "", "")]
bullet_starts = [0, 5, 7]   # which lines carry a bullet dot


def build_frame(prefix):
    # stack every walker's points (in draw order) into one long table
    g = globals()
    rows = []
    for name in draw_order:
        pts = g.get(prefix + name, []) + g.get(prefix + name + "2", [])
        for px, py in pts:
            rows.append({"x": px * 1000, "logL": py, "walker": name})
    return pd.DataFrame(rows)


sns.set_theme(style="ticks", rc={
    "axes.edgecolor": "black", "axes.linewidth": 1.6,
    "xtick.major.size": 6, "ytick.major.size": 6,
    "xtick.major.width": 1.3, "ytick.major.width": 1.3,
    "xtick.color": "#222222", "ytick.color": "#222222",
})
plt.rcParams["font.family"] = ["DejaVu Sans"]
plt.rcParams["mathtext.fontset"] = "custom"
plt.rcParams["mathtext.rm"] = "Roboto"
plt.rcParams["mathtext.it"] = "Roboto:italic"
plt.rcParams["mathtext.bf"] = "Roboto:bold"

fig = plt.figure(figsize=(24, 13.5), dpi=100, facecolor="#f8f8f8")
renderer = fig.canvas.get_renderer()
to_fig = fig.transFigure.inverted()

# slide header band + soft shadow
fig.add_artist(Rectangle((0, 0.671), 1, 0.329, transform=fig.transFigure,
                         facecolor="#4386f4", edgecolor="none", zorder=-10))
for i, a in enumerate([0.10, 0.06, 0.03]):
    fig.add_artist(Rectangle((0, 0.671 - 0.003 * (i + 1)), 1, 0.003, transform=fig.transFigure,
                             facecolor="black", alpha=a, edgecolor="none", zorder=-10))

# white cards behind the two plots
fig.add_artist(Rectangle((0.325, 0.118), 0.314, 0.5235, transform=fig.transFigure,
                         facecolor="white", edgecolor="none", zorder=-5))
fig.add_artist(Rectangle((0.6486, 0.1215), 0.3182, 0.52, transform=fig.transFigure,
                         facecolor="white", edgecolor="none", zorder=-5))

# title with underline
title = fig.text(0.0615, 0.796, "Results: Salacia", family="Open Sans", fontsize=92,
                 color="white", va="baseline", ha="left")
bb = title.get_window_extent(renderer).transformed(to_fig)
fig.add_artist(Rectangle((bb.x0, 0.7815), bb.x1 - bb.x0, 0.0058, transform=fig.transFigure,
                         facecolor="white", edgecolor="none"))

# parameter summary in the header
row_y = [0.8356, 0.7767, 0.7178]
second_x = [0.6932, 0.7079, 0.0]
for (left_txt, right_txt), yy, x2 in zip(header_rows, row_y, second_x):
    fig.text(0.5198, yy, left_txt, family="Open Sans", fontsize=43, color="white", va="baseline")
    if right_txt:
        fig.text(x2, yy, right_txt, family="Open Sans", fontsize=43, color="white", va="baseline")

# bullet list (subscripts drawn as separate, smaller, lowered pieces)
line_y = [0.5658, 0.5159, 0.4660, 0.4161, 0.3651, 0.3152, 0.2653, 0.2132, 0.1633]
for i, ((head, sub, tail), yy) in enumerate(zip(bullet_lines, line_y)):
    t = fig.text(0.1116, yy, head, family="Roboto", fontsize=43, color="#666666", va="baseline")
    xe = t.get_window_extent(renderer).transformed(to_fig).x1
    if sub:
        s_txt = fig.text(xe + 0.001, yy - 0.0155, sub, family="Roboto", fontsize=26,
                         color="#666666", va="baseline")
        xe = s_txt.get_window_extent(renderer).transformed(to_fig).x1
    if tail:
        fig.text(xe, yy, tail, family="Roboto", fontsize=43, color="#666666", va="baseline")
    if i in bullet_starts:
        fig.text(0.0791, yy + 0.0158, "\u25CF", family="DejaVu Sans", fontsize=21,
                 color="#666666", ha="center", va="center")

# the two scatter panels
panels = [
    ("j2_", "j2r2_1", [0.3807, 0.1927, 0.2475, 0.4366], (-9000, 223400), (-32.0, -7.7), j2_xticks),
    ("c22_", "c22r2_1", [0.6983, 0.1905, 0.2500, 0.4410], (-1860, 40980), (-32.06, -7.75), c22_xticks),
]
for prefix, xlabel, rect, xlim, ylim, xticks in panels:
    ax = fig.add_axes(rect)
    ax.set_facecolor("white")
    df = build_frame(prefix)
    sns.scatterplot(data=df, x="x", y="logL", hue="walker", palette=walker_colors,
                    s=195, linewidth=0, legend=False, ax=ax)
    ax.set_xlim(*xlim)
    ax.set_ylim(*ylim)
    ax.set_xticks(xticks)
    ax.set_yticks(logl_yticks)
    ax.tick_params(labelsize=19)
    ax.set_xlabel(xlabel, fontsize=19, color="#222222", labelpad=7)
    ax.set_ylabel("Log(L)", fontsize=19, color="#222222", labelpad=12)

fig.savefig("out.png", dpi=100, facecolor=fig.get_facecolor())
